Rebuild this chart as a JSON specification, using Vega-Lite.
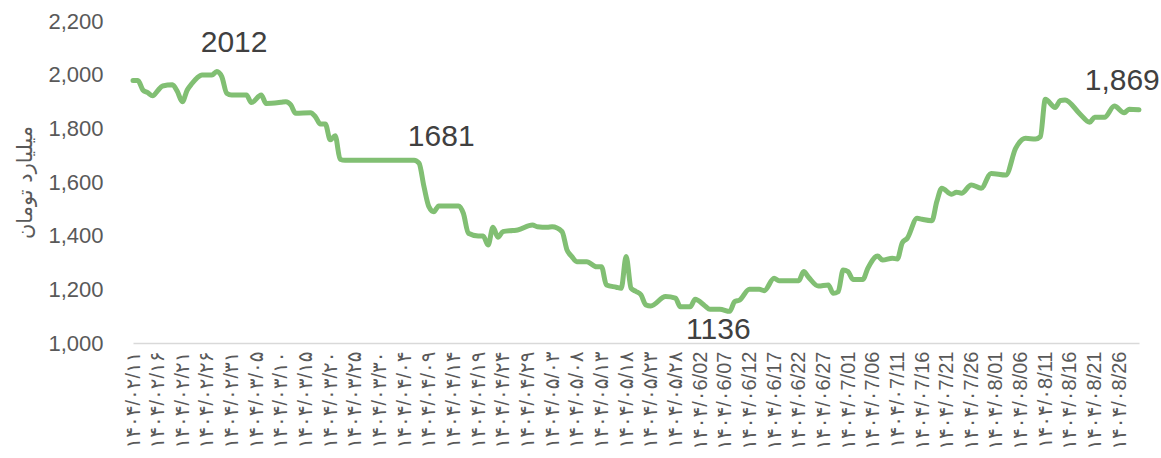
{
  "$schema": "https://vega.github.io/schema/vega-lite/v6.json",
  "autosize": {"type": "none"},
  "width": 1006,
  "height": 322,
  "padding": {"left": 133, "top": 21, "right": 22, "bottom": 115},
  "background": "white",
  "config": {"view": {"stroke": null}, "axis": {"labelOverlap": false}},
  "datasets": {
    "series": [
      {"d": 0, "v": 1978}, {"d": 1, "v": 1978}, {"d": 2, "v": 1943}, {"d": 3, "v": 1933}, {"d": 4, "v": 1921},
      {"d": 5, "v": 1940}, {"d": 6, "v": 1958}, {"d": 8, "v": 1962}, {"d": 9, "v": 1937}, {"d": 10, "v": 1899},
      {"d": 11, "v": 1943}, {"d": 12, "v": 1968}, {"d": 13, "v": 1988}, {"d": 14, "v": 1999}, {"d": 16, "v": 1999},
      {"d": 17, "v": 2012}, {"d": 18, "v": 1993}, {"d": 19, "v": 1931}, {"d": 20, "v": 1924}, {"d": 23, "v": 1924},
      {"d": 24, "v": 1896}, {"d": 26, "v": 1924}, {"d": 27, "v": 1893}, {"d": 30, "v": 1897}, {"d": 31, "v": 1899},
      {"d": 32, "v": 1887}, {"d": 33, "v": 1856}, {"d": 36, "v": 1858}, {"d": 37, "v": 1843}, {"d": 38, "v": 1816},
      {"d": 39, "v": 1816}, {"d": 40, "v": 1757}, {"d": 41, "v": 1772}, {"d": 42, "v": 1685}, {"d": 43, "v": 1681},
      {"d": 57, "v": 1681}, {"d": 58, "v": 1670}, {"d": 59, "v": 1583}, {"d": 60, "v": 1508}, {"d": 61, "v": 1489},
      {"d": 62, "v": 1511}, {"d": 66, "v": 1511}, {"d": 67, "v": 1483}, {"d": 68, "v": 1409}, {"d": 70, "v": 1399},
      {"d": 71, "v": 1399}, {"d": 72, "v": 1365}, {"d": 73, "v": 1431}, {"d": 74, "v": 1394}, {"d": 75, "v": 1415},
      {"d": 77, "v": 1419}, {"d": 78, "v": 1421}, {"d": 81, "v": 1440}, {"d": 82, "v": 1433}, {"d": 84, "v": 1431},
      {"d": 85, "v": 1433}, {"d": 87, "v": 1415}, {"d": 88, "v": 1347}, {"d": 89, "v": 1322}, {"d": 90, "v": 1303},
      {"d": 92, "v": 1303}, {"d": 94, "v": 1284}, {"d": 95, "v": 1284}, {"d": 96, "v": 1216}, {"d": 98, "v": 1208},
      {"d": 99, "v": 1204}, {"d": 100, "v": 1322}, {"d": 101, "v": 1204}, {"d": 102, "v": 1192}, {"d": 103, "v": 1180},
      {"d": 104, "v": 1142}, {"d": 105, "v": 1138}, {"d": 108, "v": 1173}, {"d": 110, "v": 1167}, {"d": 111, "v": 1135},
      {"d": 113, "v": 1135}, {"d": 114, "v": 1163}, {"d": 116, "v": 1138}, {"d": 117, "v": 1126}, {"d": 119, "v": 1126},
      {"d": 121, "v": 1118}, {"d": 122, "v": 1154}, {"d": 123, "v": 1160}, {"d": 125, "v": 1200}, {"d": 127, "v": 1200},
      {"d": 128, "v": 1195}, {"d": 130, "v": 1241}, {"d": 131, "v": 1232}, {"d": 135, "v": 1232}, {"d": 136, "v": 1266},
      {"d": 137, "v": 1245}, {"d": 139, "v": 1212}, {"d": 141, "v": 1216}, {"d": 142, "v": 1185}, {"d": 143, "v": 1191},
      {"d": 144, "v": 1272}, {"d": 145, "v": 1266}, {"d": 146, "v": 1237}, {"d": 148, "v": 1237}, {"d": 149, "v": 1278},
      {"d": 151, "v": 1324}, {"d": 152, "v": 1309}, {"d": 154, "v": 1316}, {"d": 155, "v": 1313}, {"d": 156, "v": 1374},
      {"d": 157, "v": 1390}, {"d": 159, "v": 1465}, {"d": 160, "v": 1461}, {"d": 162, "v": 1456}, {"d": 163, "v": 1527},
      {"d": 164, "v": 1577}, {"d": 166, "v": 1554}, {"d": 167, "v": 1562}, {"d": 168, "v": 1558}, {"d": 170, "v": 1589},
      {"d": 172, "v": 1577}, {"d": 174, "v": 1632}, {"d": 177, "v": 1626}, {"d": 179, "v": 1726}, {"d": 181, "v": 1763},
      {"d": 183, "v": 1760}, {"d": 184, "v": 1769}, {"d": 185, "v": 1908}, {"d": 187, "v": 1878}, {"d": 188, "v": 1903},
      {"d": 189, "v": 1906}, {"d": 192, "v": 1854}, {"d": 194, "v": 1823}, {"d": 195, "v": 1841}, {"d": 197, "v": 1841},
      {"d": 199, "v": 1883}, {"d": 201, "v": 1858}, {"d": 202, "v": 1871}, {"d": 204, "v": 1869}
    ],
    "notes": [
      {"d": 20.5, "v": 2118, "label": "2012"},
      {"d": 62.5, "v": 1766, "label": "1681"},
      {"d": 118.7, "v": 1048, "label": "1136"},
      {"d": 200.6, "v": 1977, "label": "1,869"}
    ]
  },
  "encoding": {
    "x": {
      "field": "d", "type": "quantitative",
      "scale": {"domain": [0, 204], "nice": false, "zero": false},
      "axis": {
        "title": null, "grid": false, "ticks": false,
        "domainColor": "#d9d9d9", "domainWidth": 1.5,
        "values": [0,5,10,15,20,25,30,35,40,45,50,55,60,65,70,75,80,85,90,95,100,105,110,115,120,125,130,135,140,145,150,155,160,165,170,175,180,185,190,195,200],
        "labelExpr": "['۱۴۰۴/۰۲/۱۱','۱۴۰۴/۰۲/۱۶','۱۴۰۴/۰۲/۲۱','۱۴۰۴/۰۲/۲۶','۱۴۰۴/۰۲/۳۱','۱۴۰۴/۰۳/۰۵','۱۴۰۴/۰۳/۱۰','۱۴۰۴/۰۳/۱۵','۱۴۰۴/۰۳/۲۰','۱۴۰۴/۰۳/۲۵','۱۴۰۴/۰۳/۳۰','۱۴۰۴/۰۴/۰۴','۱۴۰۴/۰۴/۰۹','۱۴۰۴/۰۴/۱۴','۱۴۰۴/۰۴/۱۹','۱۴۰۴/۰۴/۲۴','۱۴۰۴/۰۴/۲۹','۱۴۰۴/۰۵/۰۳','۱۴۰۴/۰۵/۰۸','۱۴۰۴/۰۵/۱۳','۱۴۰۴/۰۵/۱۸','۱۴۰۴/۰۵/۲۳','۱۴۰۴/۰۵/۲۸','۱۴۰۴/۰6/02','۱۴۰۴/۰6/07','۱۴۰۴/۰6/12','۱۴۰۴/۰6/17','۱۴۰۴/۰6/22','۱۴۰۴/۰6/27','۱۴۰۴/۰7/01','۱۴۰۴/۰7/06','۱۴۰۴/۰7/11','۱۴۰۴/۰7/16','۱۴۰۴/۰7/21','۱۴۰۴/۰7/26','۱۴۰۴/۰8/01','۱۴۰۴/۰8/06','۱۴۰۴/۰8/11','۱۴۰۴/۰8/16','۱۴۰۴/۰8/21','۱۴۰۴/۰8/26'][round(datum.value/5)]",
        "labelAngle": -90, "labelAlign": "right", "labelBaseline": "middle",
        "labelPadding": 8, "labelFont": "Liberation Sans, DejaVu Sans", "labelFontSize": 20,
        "labelColor": "#595959", "labelOverlap": false, "labelFlush": false, "labelBound": false
      }
    },
    "y": {
      "field": "v", "type": "quantitative",
      "scale": {"domain": [1000, 2200], "nice": false, "zero": false},
      "axis": {
        "title": "میلیارد تومان", "titleFont": "DejaVu Sans", "titleFontSize": 21, "titleFontWeight": "normal",
        "titleColor": "#595959", "titlePadding": 12,
        "grid": false, "ticks": false, "domain": false,
        "values": [1000, 1200, 1400, 1600, 1800, 2000, 2200],
        "format": ",d", "labelFont": "Liberation Sans", "labelFontSize": 22, "labelColor": "#595959",
        "labelPadding": 30
      }
    }
  },
  "layer": [
    {
      "data": {"name": "series"},
      "mark": {"type": "line", "color": "#81bf73", "strokeWidth": 5, "interpolate": "monotone", "strokeCap": "round", "strokeJoin": "round"}
    },
    {
      "data": {"name": "notes"},
      "mark": {"type": "text", "font": "Liberation Sans", "fontSize": 30, "color": "#404040", "align": "center", "baseline": "middle"},
      "encoding": {
        "text": {"field": "label", "type": "nominal"}
      }
    }
  ]
}
